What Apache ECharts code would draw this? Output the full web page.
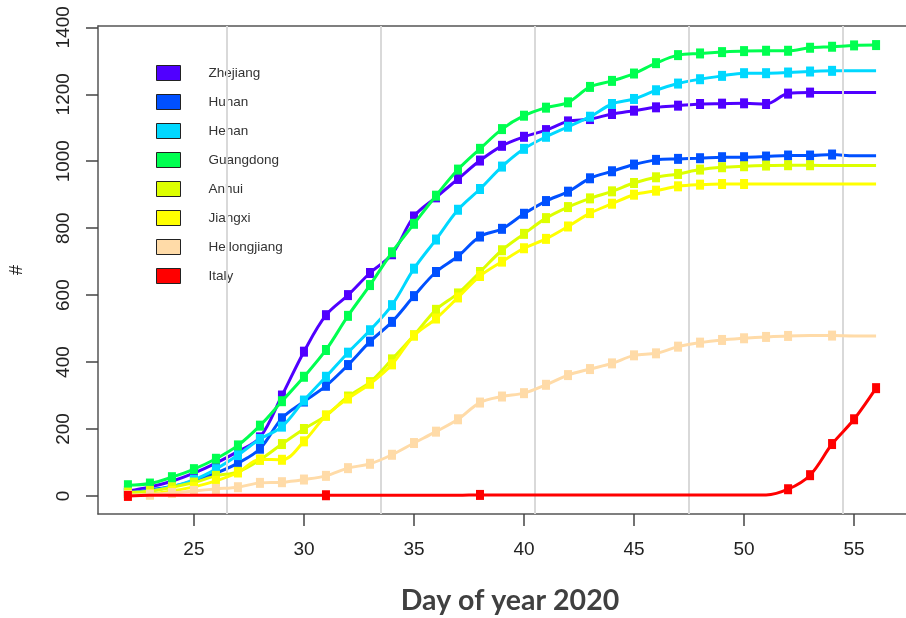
<!DOCTYPE html>
<html>
<head>
<meta charset="utf-8">
<script src="https://cdn.jsdelivr.net/npm/echarts@6/dist/echarts.min.js"></script>
<style>html,body{margin:0;padding:0;background:#fff}#c{width:906px;height:618px}</style>
</head>
<body>
<div id="c"></div>
<script>
const days = [22,23,24,25,26,27,28,29,30,31,32,33,34,35,36,37,38,39,40,41,42,43,44,45,46,47,48,49,50,51,52,53,54,55,56];
const provinces = ['Zhejiang','Hunan','Henan','Guangdong','Anhui','Jiangxi','Heilongjiang','Italy'];
const colors = ['#5000FF','#0050FF','#00D8FF','#00FF50','#DDFF00','#FFFF00','#FFDBA8','#FF0000'];

const zhejiang     = [15,27,44,68,98,133,175,300,431,540,600,666,722,835,892,947,1002,1046,1073,1093,1119,1126,1141,1151,1161,1166,1171,1172,1173,1171,1202,1205,1205,1205,1205];
const hunan        = [8,18,28,45,68,98,141,232,282,329,391,461,520,597,669,716,775,798,843,881,909,949,970,990,1004,1007,1009,1012,1012,1014,1017,1017,1020,1016,1016];
const henan        = [10,15,28,48,80,122,170,207,285,356,428,495,570,679,766,855,917,984,1037,1073,1103,1133,1171,1186,1212,1232,1245,1255,1263,1263,1265,1268,1270,1270,1270];
const guangdong    = [32,37,56,80,111,151,210,283,356,436,538,630,728,813,897,975,1037,1096,1136,1160,1176,1222,1240,1262,1293,1317,1322,1326,1329,1330,1330,1339,1342,1346,1347];
const anhui        = [10,15,26,40,60,72,108,155,200,240,297,340,408,480,556,605,669,734,783,830,863,889,910,935,952,962,975,982,985,987,988,988,987,987,987];
const jiangxi      = [2,5,15,27,45,70,109,108,163,240,291,335,393,479,530,593,657,700,740,768,805,845,873,900,912,925,930,932,932,932,932,932,932,932,932];
const heilongjiang = [2,4,9,15,21,26,39,41,49,60,83,96,123,158,192,229,279,297,307,332,361,379,396,420,426,446,458,466,471,475,478,479,479,478,478];
const italy        = [0,2,2,2,2,2,2,2,2,2,2,2,2,2,2,2,3,3,3,3,3,3,3,3,3,3,3,3,3,3,20,62,155,229,322];

// days on which the curve has no observation marker
const unmarkedDays = {
  Zhejiang: [54,55,56],
  Hunan: [55,56],
  Henan: [55,56],
  Guangdong: [],
  Anhui: [54,55,56],
  Jiangxi: [51,52,53,54,55,56],
  Heilongjiang: [53,55,56],
  Italy: [23,24,25,26,27,28,29,30,32,33,34,35,36,37,39,40,41,42,43,44,45,46,47,48,49,50,51]
};

const xTicks = [25,30,35,40,45,50,55];
const yTicks = [0,200,400,600,800,1000,1200,1400];
const weekLines = [26.5,33.5,40.5,47.5,54.5];
const xTitle = 'Day of year 2020';
const yTitle = '#';

const seriesValues = [zhejiang,hunan,henan,guangdong,anhui,jiangxi,heilongjiang,italy];

const chart = echarts.init(document.getElementById('c'), null, {renderer:'canvas'});

const series = [{
  type:'line', name:'_weeks', data:[], silent:true, z:1,
  markLine:{
    silent:true, symbol:['none','none'], label:{show:false},
    lineStyle:{color:'#d9d9d9', width:2, type:'solid'},
    emphasis:{disabled:true},
    data: weekLines.map(v => ({xAxis:v}))
  }
}];

provinces.forEach((p, k) => {
  const vals = seriesValues[k];
  series.push({
    type:'line', name:p, smooth:0.35,
    symbol:'rect', symbolSize:[8,10],
    lineStyle:{width:3, color:colors[k]},
    itemStyle:{color:colors[k]},
    z: 2 + k,
    data: days.map((d,i) => unmarkedDays[p].includes(d)
      ? {value:[d, vals[i]], symbol:'none'}
      : {value:[d, vals[i]]})
  });
});

const boxLine = {show:true, onZero:false, lineStyle:{color:'#555', width:1.5}};

chart.setOption({
  animation:false,
  backgroundColor:'#fff',
  grid:{left:98, top:26, right:-8, bottom:104, show:false},
  legend:{
    data:provinces, orient:'vertical', left:156, top:65, padding:0,
    icon:'rect', itemWidth:24, itemHeight:15, itemGap:13,
    itemStyle:{borderColor:'#222', borderWidth:1},
    textStyle:{fontSize:13.5, color:'#333', fontFamily:'Liberation Sans', padding:[0,0,0,23]}
  },
  graphic:[{
    type:'text', x:510, y:601, silent:true,
    style:{text:xTitle, fontSize:28.5, fontWeight:'bold', fill:'#404040', fontFamily:'Lato', align:'center', verticalAlign:'middle'}
  }],
  xAxis:[{
    type:'value', min:20.64, max:57.36, position:'bottom',
    splitLine:{show:false},
    axisLine:boxLine,
    axisTick:{show:true, inside:false, customValues:xTicks, length:12, lineStyle:{color:'#444', width:1.5}},
    axisLabel:{customValues:xTicks, fontSize:19, color:'#222', margin:26, fontFamily:'Liberation Sans', formatter: v => String(v)}
  },{
    type:'value', min:20.64, max:57.36, position:'top',
    splitLine:{show:false},
    axisLine:boxLine,
    axisTick:{show:false},
    axisLabel:{show:false}
  }],
  yAxis:{
    type:'value', min:-54, max:1404,
    splitLine:{show:false},
    axisLine:boxLine,
    axisTick:{show:true, inside:false, customValues:yTicks, length:12, lineStyle:{color:'#444', width:1.5}},
    axisLabel:{customValues:yTicks, fontSize:19, color:'#222', margin:25, rotate:90, fontFamily:'Liberation Sans', formatter: v => String(v)},
    name:yTitle, nameLocation:'middle', nameGap:72, nameRotate:90,
    nameTextStyle:{fontSize:18, color:'#222', fontFamily:'Liberation Sans'}
  },
  series: series
});
</script>
</body>
</html>
